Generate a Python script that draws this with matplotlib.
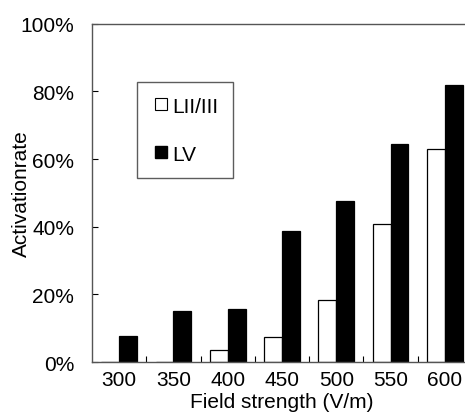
import matplotlib.pyplot as plt
from matplotlib.lines import Line2D
from matplotlib.ticker import PercentFormatter
import numpy as np

plt.rcParams['font.family'] = ['Liberation Sans', 'DejaVu Sans']

field = ["300", "350", "400", "450", "500", "550", "600"]
lii_iii = [0, 0, 3.7, 7.3, 18.3, 40.7, 62.9]
lv = [7.6, 15.2, 15.6, 38.9, 47.6, 64.5, 81.8]

fig = plt.figure(figsize=(4.65, 4.14), dpi=100)
ax = fig.add_axes([0.198, 0.123, 0.817, 0.817])

x = np.arange(len(field))
w = 0.33
ax.bar(x - w / 2, lii_iii, w, color="white", edgecolor="black", linewidth=0.9)
ax.bar(x + w / 2, lv, w, color="black", edgecolor="black", linewidth=0.9)

ax.set_xlim(-0.5, len(field) - 0.5)
ax.set_ylim(0, 100)
ax.set_yticks(range(0, 101, 20))
ax.yaxis.set_major_formatter(PercentFormatter(decimals=0))
ax.set_xticks(x)
ax.set_xticklabels(field)
ax.set_xticks(x[:-1] + 0.5, minor=True)
ax.tick_params(axis="x", which="major", length=0, pad=6, labelsize=15)
ax.tick_params(axis="x", which="minor", direction="in", length=4, width=0.8)
ax.tick_params(axis="y", direction="in", length=4, width=0.8, pad=13, labelsize=15)

for s in ax.spines.values():
    s.set_color("#555555")
    s.set_linewidth(1.0)

ax.set_xlabel("Field strength (V/m)", fontsize=15, labelpad=2)
ax.set_ylabel("Activationrate", fontsize=15, va="center")
ax.yaxis.set_label_coords(-0.185, 0.5)

handles = [
    Line2D([], [], marker="s", linestyle="none", markersize=8,
           markerfacecolor="white", markeredgecolor="black", markeredgewidth=0.8),
    Line2D([], [], marker="s", linestyle="none", markersize=8,
           markerfacecolor="black", markeredgecolor="black"),
]
leg = ax.legend(handles, ["LII/III", "LV"], loc="upper left",
                bbox_to_anchor=(0.118, 0.828), fontsize=15, frameon=True,
                fancybox=False, labelspacing=1.4, handlelength=0.9,
                handletextpad=0.1, borderpad=0.7, borderaxespad=0)
leg.get_frame().set_edgecolor("#333333")
leg.get_frame().set_linewidth(1.0)

fig.savefig("out.png", dpi=100)
